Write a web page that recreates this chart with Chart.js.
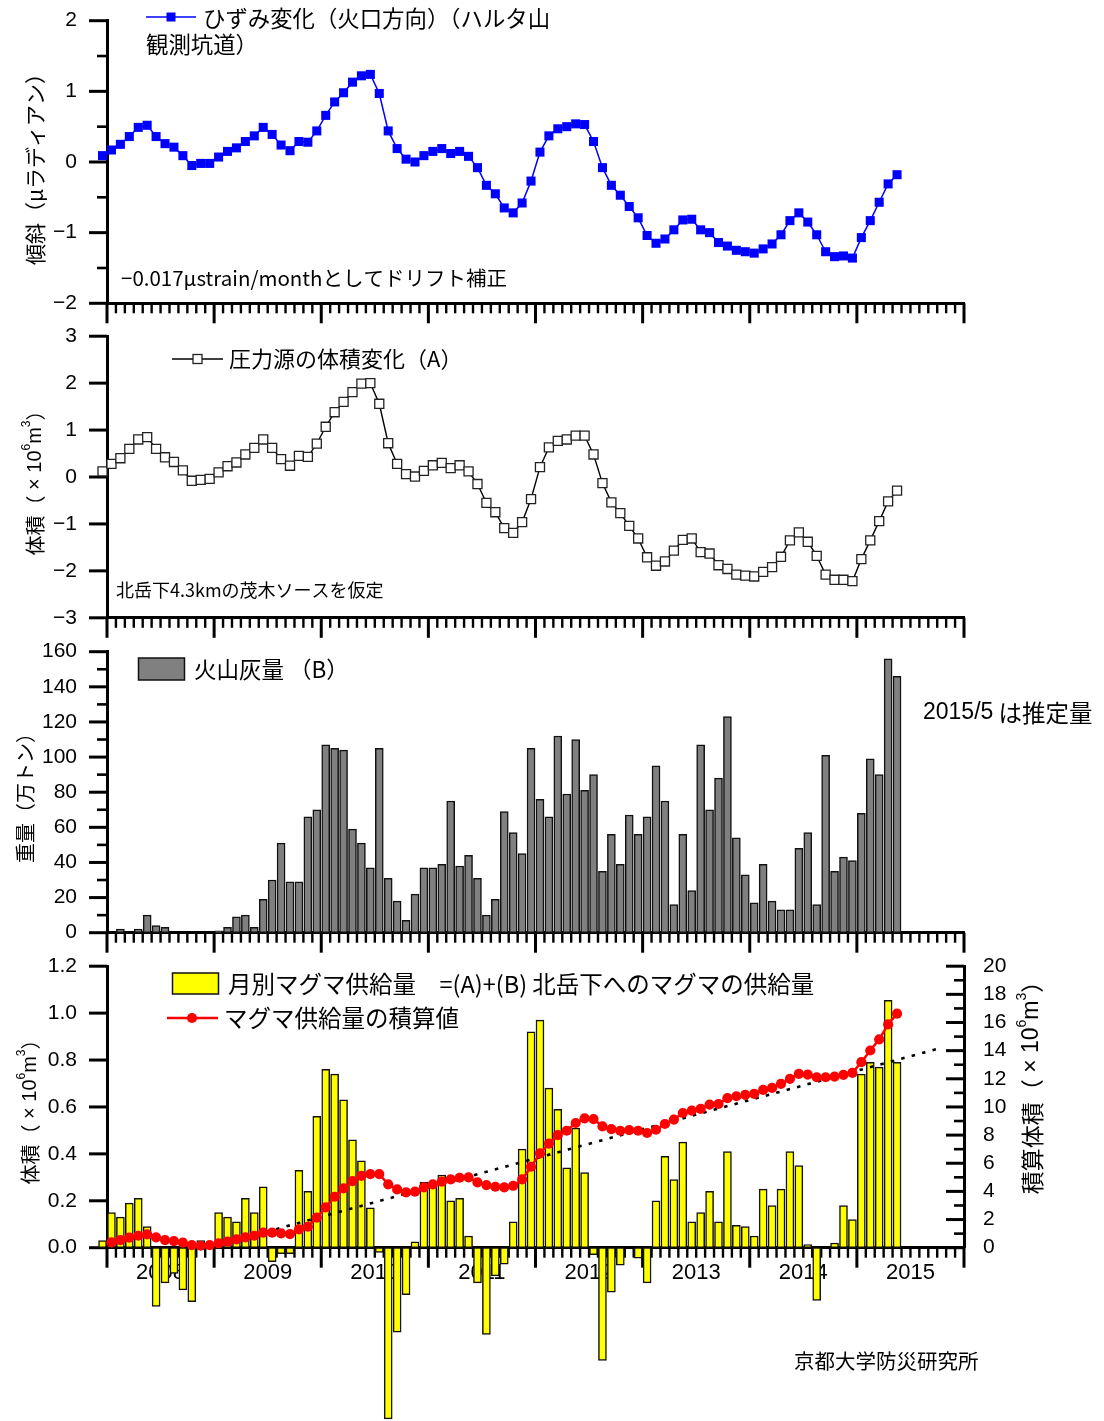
<!DOCTYPE html>
<html lang="ja">
<head>
<meta charset="utf-8">
<title>桜島 マグマ供給量の推移</title>
<script src="https://cdn.jsdelivr.net/npm/chart.js@4.4.1/dist/chart.umd.min.js"></script>
<style>
  html, body { margin: 0; padding: 0; background: #fff; }
  #wrap { position: relative; width: 1104px; height: 1421px; background: #fff; overflow: hidden; }
  #wrap canvas { position: absolute; left: 0; }
</style>
</head>
<body>
<div id="wrap">
  <canvas id="c1" width="1104" height="340" style="top:0px"></canvas>
  <canvas id="c2" width="1104" height="330" style="top:320px"></canvas>
  <canvas id="c3" width="1104" height="330" style="top:630px"></canvas>
  <canvas id="c4" width="1104" height="476" style="top:945px"></canvas>
</div>
<script>
// ---- data (monthly, 2007-12 .. 2015-05) ----
const yearLabels = ['2008', '2009', '2010', '2011', '2012', '2013', '2014', '2015'];

// tilt change toward the crater, Harutayama tunnel (μrad)
const tilt = [
  0.09, 0.17, 0.25, 0.36, 0.49, 0.52, 0.36, 0.26, 0.21, 0.09,
  -0.05, -0.02, -0.02, 0.07, 0.15, 0.20, 0.29, 0.37, 0.49, 0.39,
  0.24, 0.16, 0.29, 0.28, 0.44, 0.66, 0.85, 0.98, 1.13, 1.22,
  1.24, 0.97, 0.44, 0.19, 0.04, 0.00, 0.09, 0.15, 0.19, 0.12,
  0.15, 0.08, -0.08, -0.33, -0.45, -0.65, -0.72, -0.58, -0.27, 0.14,
  0.37, 0.47, 0.50, 0.54, 0.53, 0.29, -0.08, -0.33, -0.47, -0.63,
  -0.79, -1.04, -1.15, -1.09, -0.96, -0.82, -0.81, -0.96, -1.00, -1.14,
  -1.19, -1.25, -1.27, -1.29, -1.23, -1.16, -1.03, -0.83, -0.72, -0.85,
  -1.03, -1.27, -1.34, -1.33, -1.36, -1.07, -0.83, -0.57, -0.31, -0.18
];

// volume change of the pressure source (A), ×10^6 m^3
const sourceVolume = [
  0.12, 0.28, 0.40, 0.60, 0.80, 0.85, 0.60, 0.42, 0.32, 0.14,
  -0.08, -0.06, -0.04, 0.10, 0.23, 0.31, 0.48, 0.62, 0.80, 0.62,
  0.38, 0.24, 0.45, 0.43, 0.71, 1.07, 1.38, 1.60, 1.81, 1.99,
  2.00, 1.56, 0.72, 0.28, 0.06, 0.01, 0.13, 0.25, 0.30, 0.19,
  0.25, 0.12, -0.15, -0.55, -0.75, -1.09, -1.19, -0.96, -0.47, 0.21,
  0.63, 0.77, 0.80, 0.88, 0.88, 0.48, -0.13, -0.54, -0.77, -1.04,
  -1.31, -1.71, -1.89, -1.80, -1.57, -1.34, -1.31, -1.60, -1.63, -1.88,
  -1.96, -2.08, -2.10, -2.12, -2.02, -1.92, -1.70, -1.35, -1.18, -1.38,
  -1.68, -2.08, -2.19, -2.19, -2.22, -1.75, -1.35, -0.94, -0.52, -0.29
];

// monthly volcanic ash (B), 10^4 t  (2015-05 estimated)
const ash = [
  null, null, 2, null, 2, 10, 4, 3, null, null,
  null, null, null, 1, 3, 9, 10, 3, 19, 30,
  51, 29, 29, 66, 70, 107, 105, 104, 59, 51,
  37, 105, 31, 18, 7, 22, 37, 37, 39, 75,
  38, 44, 31, 10, 19, 69, 57, 45, 105, 76,
  66, 112, 79, 110, 81, 90, 35, 56, 39, 67,
  56, 66, 95, 75, 16, 56, 24, 107, 70, 88,
  123, 54, 33, 17, 39, 18, 13, 13, 48, 57,
  16, 101, 35, 43, 41, 68, 99, 90, 156, 146
];

// monthly magma supply =(A)+(B), ×10^6 m^3
const supply = [
  0.03, 0.15, 0.13, 0.19, 0.21, 0.09, -0.25, -0.15, -0.11, -0.18,
  -0.23, 0.03, null, 0.15, 0.13, 0.11, 0.21, 0.15, 0.26, -0.06,
  -0.025, -0.025, 0.33, 0.24, 0.56, 0.76, 0.74, 0.63, 0.46, 0.37,
  0.17, -0.02, -0.73, -0.36, -0.20, 0.025, 0.28, 0.28, 0.31, 0.20,
  0.21, 0.05, -0.15, -0.37, -0.12, -0.07, 0.11, 0.42, 0.92, 0.97,
  0.68, 0.59, 0.34, 0.51, 0.32, -0.03, -0.48, -0.19, -0.075, null,
  -0.045, -0.15, 0.20, 0.39, 0.29, 0.45, 0.11, 0.15, 0.24, 0.11,
  0.41, 0.095, 0.09, 0.05, 0.25, 0.18, 0.25, 0.41, 0.35, 0.013,
  -0.225, null, 0.02, 0.18, 0.12, 0.74, 0.79, 0.77, 1.055, 0.79
];

// cumulative magma supply, ×10^6 m^3 (starts 2008-01)
const cumulative = [
  null, 0.38, 0.54, 0.71, 0.85, 0.95, 0.73, 0.54, 0.47, 0.36,
  0.19, 0.14, 0.19, 0.31, 0.43, 0.59, 0.73, 0.85, 1.07, 1.07,
  1.02, 0.97, 1.30, 1.49, 2.13, 2.86, 3.62, 4.21, 4.73, 5.11,
  5.23, 5.23, 4.50, 4.14, 3.93, 3.98, 4.29, 4.50, 4.69, 4.85,
  4.97, 5.00, 4.64, 4.45, 4.33, 4.29, 4.40, 4.85, 5.75, 6.70,
  7.40, 8.00, 8.31, 8.86, 9.19, 9.14, 8.62, 8.43, 8.31, 8.36,
  8.31, 8.15, 8.38, 8.79, 9.10, 9.57, 9.74, 9.86, 10.17, 10.21,
  10.62, 10.76, 10.86, 10.93, 11.21, 11.35, 11.64, 12.00, 12.35, 12.30,
  12.11, 12.11, 12.16, 12.28, 12.42, 13.18, 14.01, 14.80, 15.87, 16.63
];

// linear trend of the cumulative supply (months since 2008-01, ×10^6 m^3)
const trendMonths = [13.1, 93.1];
const trendValues = [0.31, 14.14];

// month labels 2007-12 ... 2015-05
const months = [];
for (let y = 2007, mo = 12; months.length < tilt.length; mo++) {
  if (mo > 12) { mo = 1; y++; }
  months.push(y + '-' + String(mo).padStart(2, '0'));
}
// centre of a month on the axis, counted in months from 2008-01
function monthCentre(label) {
  const [y, m] = label.split('-').map(Number);
  return (y - 2008) * 12 + (m - 1) + 0.5;
}
const pts = arr => months.map((mo, i) => ({ x: monthCentre(mo), y: arr[i] }));

// ---- styling ----
const LAT = "'Liberation Sans', Arial, Helvetica, sans-serif";
const CJK = "'Noto Sans CJK JP', 'Noto Sans CJK SC', sans-serif";
const PLOT_LEFT = 107, PLOT_RIGHT = 964, W = 1104;
const N_MONTHS = yearLabels.length * 12;
const halfYearPx = (PLOT_RIGHT - PLOT_LEFT) / N_MONTHS * 6;
const X_LABEL_BAND = 45;
const minus = v => String(v).replace('-', '\u2212');

function xScale(showLabels) {
  const band = showLabels ? X_LABEL_BAND : 0;
  return {
    type: 'linear', min: 0, max: N_MONTHS, offset: false,
    afterFit: s => { s.height = band; s.paddingLeft = 0; s.paddingRight = 0; },
    afterBuildTicks: s => {
      const t = [];
      for (let i = 0; i <= yearLabels.length; i++) t.push({ value: i * 12 });
      s.ticks = t;
    },
    grid: { display: false, drawTicks: false, tickLength: 0 },
    border: { display: true, color: '#000', width: 3 },
    ticks: {
      display: showLabels, autoSkip: false, maxRotation: 0, minRotation: 0,
      labelOffset: halfYearPx, padding: 12, color: '#000',
      font: { family: LAT, size: 22 },
      callback: (v, i) => yearLabels[i] !== undefined ? yearLabels[i] : ''
    }
  };
}

function yScale(o) {
  return {
    type: 'linear', position: o.position || 'left', min: o.min, max: o.max,
    afterFit: s => { s.width = o.width; s.paddingTop = 0; s.paddingBottom = 0; },
    afterBuildTicks: s => { s.ticks = o.ticks.map(v => ({ value: v })); },
    grid: { display: false, drawTicks: false, tickLength: 0, drawOnChartArea: false },
    border: { display: true, color: '#000', width: 3 },
    ticks: { color: '#000', padding: o.pad, font: { family: LAT, size: 21 }, callback: o.fmt, autoSkip: false }
  };
}

// tick marks: monthly minor ticks and yearly major ticks on x, value ticks on y
function tickMarks(ySpecs) {
  return {
    id: 'tickMarks',
    beforeDatasetsDraw(chart) {
      const { ctx, chartArea: a, scales } = chart;
      ctx.save();
      ctx.strokeStyle = '#000';
      ctx.lineCap = 'butt';
      for (let m = 0; m <= N_MONTHS; m++) {
        const major = m % 12 === 0;
        const px = scales.x.getPixelForValue(m);
        ctx.lineWidth = major ? 3 : 2.4;
        ctx.beginPath();
        ctx.moveTo(px, a.bottom);
        ctx.lineTo(px, a.bottom + (major ? 20 : 10));
        ctx.stroke();
      }
      ySpecs.forEach(sp => {
        const sc = scales[sp.id];
        const x0 = sp.side === 'left' ? a.left : a.right;
        const dir = sp.side === 'left' ? -1 : (sp.inward ? -1 : 1);
        const draw = (vals, len, lw) => vals.forEach(v => {
          const py = sc.getPixelForValue(v);
          ctx.lineWidth = lw;
          ctx.beginPath();
          ctx.moveTo(x0, py);
          ctx.lineTo(x0 + dir * len, py);
          ctx.stroke();
        });
        draw(sp.major, 18, 3);
        draw(sp.minor || [], 10, 2.6);
      });
      ctx.restore();
    }
  };
}

// text runs (mixed fonts, superscripts), optionally rotated
function runs(ctx, list, x, y, opts) {
  opts = opts || {};
  ctx.save();
  ctx.translate(x, y);
  if (opts.rot) ctx.rotate(opts.rot);
  ctx.textBaseline = 'middle';
  ctx.textAlign = 'left';
  ctx.fillStyle = '#000';
  let total = 0;
  list.forEach(r => { ctx.font = r.f; r.w = ctx.measureText(r.t).width; total += r.w; });
  let cx = opts.center ? -total / 2 : 0;
  list.forEach(r => { ctx.font = r.f; ctx.fillText(r.t, cx, -(r.rise || 0)); cx += r.w; });
  ctx.restore();
}
const cjk = s => s + 'px ' + CJK;
const lat = s => s + 'px ' + LAT;
const volTitle = (pre, size) => [
  { t: pre + '（', f: cjk(size) },
  { t: ' × 10', f: lat(size) },
  { t: '6', f: lat(Math.round(size * 0.62)), rise: size * 0.42 },
  { t: 'm', f: lat(size) },
  { t: '3', f: lat(Math.round(size * 0.62)), rise: size * 0.42 },
  { t: '）', f: cjk(size) }
];

function decor(canvasTop, drawFn) {
  return {
    id: 'decor',
    afterDraw(chart) {
      const ctx = chart.ctx;
      ctx.save();
      ctx.translate(0, -canvasTop);
      drawFn(ctx);
      ctx.restore();
    }
  };
}

const base = (padTop, padBottom, padRight) => ({
  responsive: false, animation: false, devicePixelRatio: 1, events: [],
  layout: { padding: { top: padTop, bottom: padBottom, left: 0, right: padRight } },
  plugins: { legend: { display: false }, tooltip: { enabled: false }, title: { display: false } }
});

// ---- panel 1: tilt ----
(() => {
  const top = 0, h = 340, aTop = 20.7, aBot = 303.3;
  const opts = base(aTop - top, top + h - aBot, W - PLOT_RIGHT);
  opts.scales = {
    x: xScale(false),
    y: yScale({ min: -2, max: 2, ticks: [-2, -1, 0, 1, 2], width: PLOT_LEFT, pad: 30, fmt: minus })
  };
  new Chart(document.getElementById('c1'), {
    type: 'line',
    data: { datasets: [{
      data: pts(tilt), borderColor: '#0000ff', borderWidth: 1.5, tension: 0, clip: false,
      pointStyle: 'rect', pointRadius: 6.4, pointBackgroundColor: '#0000ff', pointBorderWidth: 0
    }] },
    options: opts,
    plugins: [
      tickMarks([{ id: 'y', side: 'left', major: [-2, -1, 0, 1, 2], minor: [-1.5, -0.5, 0.5, 1.5] }]),
      decor(top, ctx => {
        ctx.strokeStyle = '#0000ff'; ctx.lineWidth = 1.5;
        ctx.beginPath(); ctx.moveTo(146, 17); ctx.lineTo(196, 17); ctx.stroke();
        ctx.fillStyle = '#0000ff'; ctx.fillRect(171 - 4.5, 17 - 4.5, 9, 9);
        runs(ctx, [{ t: 'ひずみ変化（火口方向）（ハルタ山', f: cjk(22.4) }], 203, 18);
        runs(ctx, [{ t: '観測坑道）', f: cjk(22.4) }], 146, 44);
        runs(ctx, [{ t: '\u22120.017\u03bcstrain/monthとしてドリフト補正', f: cjk(20.5) }], 121, 278);
        runs(ctx, [{ t: '傾斜（μラディアン）', f: cjk(21) }], 35, 164, { rot: -Math.PI / 2, center: true });
      })
    ]
  });
})();

// ---- panel 2: pressure-source volume (A) ----
(() => {
  const top = 320, h = 330, aTop = 336.2, aBot = 617.8;
  const opts = base(aTop - top, top + h - aBot, W - PLOT_RIGHT);
  opts.scales = {
    x: xScale(false),
    y: yScale({ min: -3, max: 3, ticks: [-3, -2, -1, 0, 1, 2, 3], width: PLOT_LEFT, pad: 30, fmt: minus })
  };
  new Chart(document.getElementById('c2'), {
    type: 'line',
    data: { datasets: [{
      data: pts(sourceVolume), borderColor: '#000', borderWidth: 1.4, tension: 0, clip: false,
      pointStyle: 'rect', pointRadius: 6.4, pointBackgroundColor: '#fff',
      pointBorderColor: '#222', pointBorderWidth: 1.3
    }] },
    options: opts,
    plugins: [
      tickMarks([{ id: 'y', side: 'left', major: [-3, -2, -1, 0, 1, 2, 3] }]),
      decor(top, ctx => {
        ctx.strokeStyle = '#000'; ctx.lineWidth = 1.4;
        ctx.beginPath(); ctx.moveTo(172, 359); ctx.lineTo(223, 359); ctx.stroke();
        ctx.fillStyle = '#fff'; ctx.fillRect(197.5 - 4.5, 359 - 4.5, 9, 9);
        ctx.strokeStyle = '#222'; ctx.lineWidth = 1.3; ctx.strokeRect(197.5 - 4.5, 359 - 4.5, 9, 9);
        runs(ctx, [{ t: '圧力源の体積変化（A）', f: cjk(22) }], 229, 359);
        runs(ctx, [{ t: '北岳下4.3kmの茂木ソースを仮定', f: cjk(18) }], 116, 590);
        runs(ctx, volTitle('体積', 20), 35, 478, { rot: -Math.PI / 2, center: true });
      })
    ]
  });
})();

// ---- panel 3: volcanic ash (B) ----
(() => {
  const top = 630, h = 330, aTop = 651.7, aBot = 932.7;
  const opts = base(aTop - top, top + h - aBot, W - PLOT_RIGHT);
  const major = [0, 20, 40, 60, 80, 100, 120, 140, 160];
  opts.scales = {
    x: xScale(false),
    y: yScale({ min: 0, max: 160, ticks: major, width: PLOT_LEFT, pad: 30, fmt: v => String(v) })
  };
  new Chart(document.getElementById('c3'), {
    type: 'bar',
    data: { datasets: [{
      data: pts(ash), backgroundColor: '#808080', borderColor: '#111', borderWidth: 1.5,
      borderSkipped: false, barThickness: 8, clip: false
    }] },
    options: opts,
    plugins: [
      tickMarks([{ id: 'y', side: 'left', major, minor: [10, 30, 50, 70, 90, 110, 130, 150] }]),
      decor(top, ctx => {
        ctx.fillStyle = '#808080'; ctx.fillRect(138.5, 658, 46, 22);
        ctx.strokeStyle = '#111'; ctx.lineWidth = 1.5; ctx.strokeRect(138.5, 658, 46, 22);
        runs(ctx, [{ t: '火山灰量 （B）', f: cjk(22.5) }], 194, 669);
        runs(ctx, [{ t: '2015/5', f: lat(23) }, { t: ' は推定量', f: cjk(23.5) }], 923, 713);
        runs(ctx, [{ t: '重量（万トン）', f: cjk(20) }], 25, 793, { rot: -Math.PI / 2, center: true });
      })
    ]
  });
})();

// ---- panel 4: monthly magma supply and cumulative volume ----
(() => {
  const top = 945, h = 476, aTop = 966.2, aBot = 1247.7;
  const opts = base(aTop - top, top + h - aBot - X_LABEL_BAND, 0);
  const leftTicks = [0, 0.2, 0.4, 0.6, 0.8, 1.0, 1.2];
  const rightTicks = [0, 2, 4, 6, 8, 10, 12, 14, 16, 18, 20];
  opts.scales = {
    x: xScale(true),
    y: yScale({ min: 0, max: 1.2, ticks: leftTicks, width: PLOT_LEFT, pad: 30, fmt: v => v.toFixed(1) }),
    y2: yScale({ position: 'right', min: 0, max: 20, ticks: rightTicks, width: W - PLOT_RIGHT, pad: 19, fmt: v => String(v) })
  };
  const trend = trendMonths.map((m, i) => ({ x: m, y: trendValues[i] }));
  new Chart(document.getElementById('c4'), {
    type: 'bar',
    data: { datasets: [
      { type: 'bar', order: 3, data: pts(supply), yAxisID: 'y', backgroundColor: '#ffff00',
        borderColor: '#111', borderWidth: 1.5, borderSkipped: false, barThickness: 8, clip: false },
      { type: 'line', order: 2, data: trend, yAxisID: 'y2', borderColor: '#000', borderWidth: 2.6,
        borderDash: [3.5, 7.3], pointRadius: 0, clip: false },
      { type: 'line', order: 1, data: pts(cumulative), yAxisID: 'y2', borderColor: '#ff0000', borderWidth: 2.5,
        pointStyle: 'circle', pointRadius: 5.1, pointBackgroundColor: '#ff0000', pointBorderWidth: 0,
        tension: 0, clip: false }
    ] },
    options: opts,
    plugins: [
      tickMarks([
        { id: 'y', side: 'left', major: leftTicks },
        { id: 'y2', side: 'right', inward: true, major: rightTicks, minor: [1, 3, 5, 7, 9, 11, 13, 15, 17, 19] }
      ]),
      decor(top, ctx => {
        ctx.fillStyle = '#ffff00'; ctx.fillRect(172.5, 973, 46, 21);
        ctx.strokeStyle = '#111'; ctx.lineWidth = 1.5; ctx.strokeRect(172.5, 973, 46, 21);
        runs(ctx, [{ t: '月別マグマ供給量　=(A)+(B) 北岳下へのマグマの供給量', f: cjk(23.5) }], 228, 984);
        ctx.strokeStyle = '#ff0000'; ctx.lineWidth = 2.5;
        ctx.beginPath(); ctx.moveTo(167, 1018); ctx.lineTo(218, 1018); ctx.stroke();
        ctx.fillStyle = '#ff0000'; ctx.beginPath(); ctx.arc(192, 1018, 5.1, 0, Math.PI * 2); ctx.fill();
        runs(ctx, [{ t: 'マグマ供給量の積算値', f: cjk(23.5) }], 224, 1018);
        runs(ctx, volTitle('体積', 20), 30, 1107, { rot: -Math.PI / 2, center: true });
        runs(ctx, volTitle('積算体積', 23), 1032, 1082, { rot: -Math.PI / 2, center: true });
        runs(ctx, [{ t: '京都大学防災研究所', f: cjk(20.5) }], 794, 1361);
      })
    ]
  });
})();
</script>
</body>
</html>
